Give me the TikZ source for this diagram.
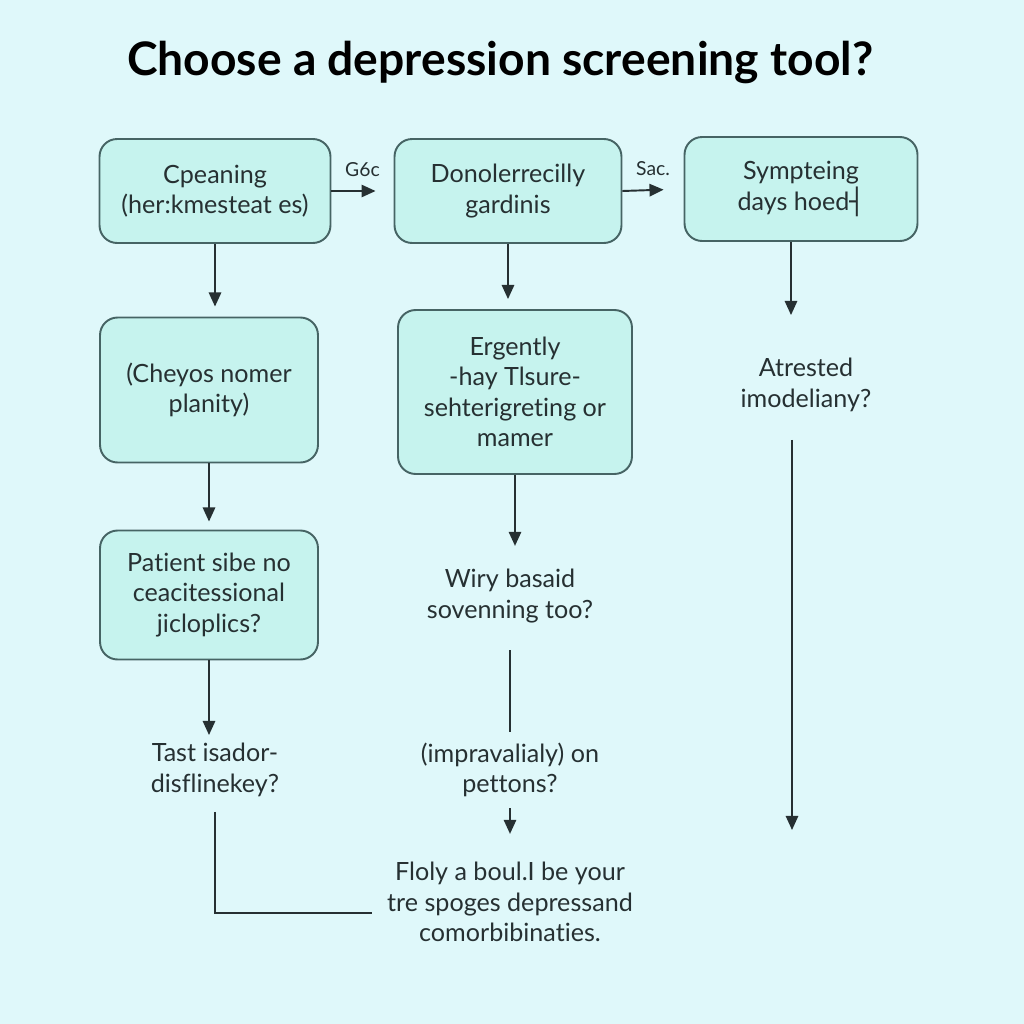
\documentclass[tikz,border=0pt]{standalone}
\usepackage{fontspec}
\setmainfont[Ligatures=CommonOff]{Lato}
\newfontfamily\symbolfont{DejaVu Sans}
\usetikzlibrary{arrows.meta}
\definecolor{bgcyan}{HTML}{DFF8FA}
\definecolor{boxaqua}{HTML}{C6F3EE}
\definecolor{boxedge}{HTML}{466464}
\definecolor{inkgray}{HTML}{263032}
\tikzset{
  flowbox/.style={draw=boxedge, fill=boxaqua, line width=1.1pt,
    rounded corners=10pt, align=center, text=inkgray,
    font=\fontsize{14.3}{17.3}\selectfont},
  flowtext/.style={align=center, inner sep=0pt, text=inkgray,
    font=\fontsize{14.3}{17.3}\selectfont},
  flowarrow/.style={draw=inkgray, line width=1.1pt,
    -{Triangle[width=7pt,length=8pt]}},
  flowline/.style={draw=inkgray, line width=1.1pt},
  arrowlabels/.style={font=\fontsize{11}{13}\selectfont, text=inkgray},
}

\begin{document}
\begin{tikzpicture}[
  x=0.02cm,
  y=-0.02cm,
]

% background and title
\fill [bgcyan] (0,0) rectangle (1024,1024);
\node [text=black, font=\bfseries\fontsize{26.3}{31}\selectfont, name=title]
      at (500,63) {Choose a depression screening tool?};

% boxes
\node [flowbox, minimum width=4.62cm, minimum height=2.08cm, name=A]
      at (215,191) {Cpeaning\\(her:kmesteat es)};
\node [flowbox, minimum width=4.54cm, minimum height=2.08cm, name=B]
      at (508,191) {Donolerrecilly\\gardinis};
\node [flowbox, minimum width=4.66cm, minimum height=2.08cm, name=C]
      at (801,189) {Sympteing\\days hoed{\symbolfont ┤}};
\node [flowbox, minimum width=4.36cm, minimum height=2.90cm, name=D]
      at (209,390) {(Cheyos nomer\\planity)};
\node [flowbox, minimum width=4.68cm, minimum height=3.28cm, name=E]
      at (515,392) {Ergently\\-hay Tlsure-\\sehterigreting or\\mamer};
\node [flowbox, minimum width=4.36cm, minimum height=2.58cm, name=F]
      at (209,595) {Patient sibe no\\ceacitessional\\jicloplics?};

% plain questions
\node [flowtext, name=G] at (806,385) {Atrested\\imodeliany?};
\node [flowtext, name=H] at (510,596) {Wiry basaid\\sovenning too?};
\node [flowtext, name=I] at (215,770) {Tast isador-\\disflinekey?};
\node [flowtext, name=J] at (510,770) {(impravalialy) on\\pettons?};
\node [flowtext, name=K] at (510,902)
      {Floly a boul.I be your\\tre spoges depressand\\comorbibinaties.};
\coordinate (gend) at (792,830);

% across the top
\draw [flowarrow, shorten >=0.36cm] (A.east) -- (B.west)
      node [arrowlabels, midway, above=4pt] {G6c};
\draw [flowarrow, shorten >=0.40cm] (B.east) -- (C.west)
      node [arrowlabels, midway, above=4pt] {Sac.};

% left column
\draw [flowarrow, shorten >=0.20cm] (A.south) -- (A.south |- D.north);
\draw [flowarrow, shorten >=0.16cm] (D.south) -- (D.south |- F.north);
\draw [flowarrow, shorten >=0.16cm] (F.south) -- (F.south |- I.north);
\draw [flowline, shorten <=0.30cm, shorten >=0.30cm]
      (I.south) |- ([yshift=-0.22cm]K.west);

% middle column
\draw [flowarrow, shorten >=0.20cm] (B.south) -- (B.south |- E.north);
\draw [flowarrow, shorten >=0.46cm] (E.south) -- (E.south |- H.north);
\draw [flowline, shorten <=0.54cm, shorten >=0.22cm]
      (H.south) -- (H.south |- J.north);
\draw [flowarrow, shorten <=0.22cm, shorten >=0.56cm]
      (J.south) -- (J.south |- K.north);

% right column
\draw [flowarrow, shorten >=0.86cm]
      ([xshift=-0.2cm]C.south) -- ([xshift=-0.2cm]C.south |- G.north);
\draw [flowarrow, shorten <=0.56cm] (G.south -| gend) -- (gend);

\end{tikzpicture}
\end{document}
